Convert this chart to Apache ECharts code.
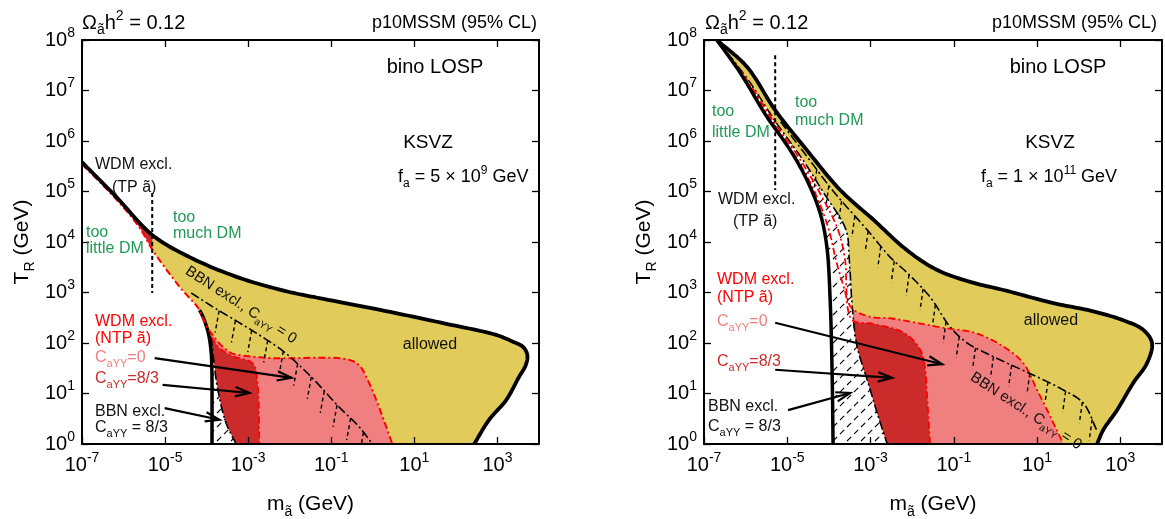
<!DOCTYPE html>
<html>
<head>
<meta charset="utf-8">
<script src="https://cdn.jsdelivr.net/npm/echarts@6.0.0/dist/echarts.min.js"></script>
<style>
html,body{margin:0;padding:0;background:#fff;}
#chart{width:1165px;height:519px;}
</style>
</head>
<body>
<div id="chart"></div>
<script>
// ===== Data: every point is [log10(m_a~ / GeV), log10(T_R / GeV)] =====
const xTickExps = [-7, -5, -3, -1, 1, 3];
const yTickExps = [0, 1, 2, 3, 4, 5, 6, 7, 8];

// ---- Left panel: KSVZ, f_a = 5e9 GeV ----
const L_upper = [[-7.00,5.58],[-6.17,4.89],[-5.31,4.14],[-4.41,3.70],[-3.21,3.29],[-2.01,3.01],[-1.29,2.89],[0.15,2.66],[1.77,2.38],[2.97,2.16],[3.36,2.03],[3.62,1.92],[3.72,1.76],[3.68,1.56],[3.52,1.33],[3.21,0.87],[2.80,0.48],[2.44,0.00]];
const L_lower = [[-7.00,5.54],[-6.17,4.84],[-5.62,4.29],[-5.30,3.84],[-4.65,3.11],[-4.17,2.65],[-3.98,2.26],[-3.91,1.96],[-3.88,1.66],[-3.87,0.00]];
const L_wdm0  = [[-4.00,2.32],[-3.82,2.12],[-3.62,1.93],[-3.40,1.80],[-3.21,1.76],[-2.42,1.70],[-0.64,1.68],[-0.33,1.56],[-0.09,1.21],[0.15,0.73],[0.47,0.00]];
const L_wdm83 = [[-3.89,2.12],[-3.69,1.90],[-3.37,1.74],[-2.97,1.64],[-2.85,1.55],[-2.80,1.38],[-2.76,1.07],[-2.73,0.00]];
const L_bbn83 = [[-3.89,2.12],[-3.84,1.73],[-3.73,1.07],[-3.53,0.41],[-3.29,0.00]];
const L_bbn0  = [[-4.37,2.99],[-3.76,2.67],[-3.21,2.40],[-2.66,2.12],[-2.13,1.82],[-1.46,1.31],[-0.81,0.73],[-0.33,0.34],[-0.01,0.00]];
const L_wdmTP = [[-5.31,4.97],[-5.31,2.99]];
const L_arrows = [[-5.25,1.70,-1.96,1.31],[-5.06,1.17,-2.97,1.01],[-5.01,0.71,-3.69,0.48]];

// ---- Right panel: KSVZ, f_a = 1e11 GeV ----
const R_upper = [[-6.69,8.00],[-5.97,7.47],[-5.29,6.61],[-4.53,5.82],[-3.73,5.03],[-2.93,4.44],[-2.13,3.84],[-1.41,3.45],[-0.61,3.21],[0.19,3.05],[1.39,2.79],[2.28,2.64],[3.07,2.45],[3.55,2.26],[3.76,2.00],[3.64,1.60],[3.31,1.21],[2.92,0.67],[2.59,0.28],[2.44,0.00]];
const R_lower = [[-6.69,8.00],[-6.13,7.35],[-5.49,6.48],[-4.93,5.82],[-4.53,5.23],[-4.21,4.57],[-4.05,3.91],[-3.97,2.85],[-3.92,1.27],[-3.90,0.00]];
const R_wdm83 = [[-6.69,8.00],[-6.00,7.21],[-5.37,6.38],[-4.75,5.62],[-4.34,4.99],[-4.00,4.24],[-3.83,3.64],[-3.61,3.01],[-3.44,2.46],[-2.94,2.38],[-2.29,2.24],[-1.98,2.06],[-1.78,1.82],[-1.69,1.50],[-1.64,0.93],[-1.57,0.00]];
const R_wdm0  = [[-6.69,8.00],[-5.97,7.21],[-5.32,6.38],[-4.68,5.62],[-4.23,4.99],[-3.78,4.24],[-3.61,3.64],[-3.49,2.73],[-3.01,2.52],[-2.53,2.49],[-1.25,2.30],[-0.49,2.20],[0.19,1.93],[0.67,1.60],[1.00,1.07],[1.32,0.54],[1.63,0.00]];
const R_bbn83 = [[-6.69,8.00],[-5.94,7.21],[-5.28,6.38],[-4.62,5.62],[-4.14,4.99],[-3.59,4.24],[-3.51,3.64],[-3.44,2.73],[-3.32,1.92],[-3.08,1.27],[-2.84,0.61],[-2.60,0.00]];
const R_bbn0  = [[-5.16,6.38],[-4.46,5.62],[-3.88,4.99],[-3.08,4.24],[-2.53,3.70],[-2.12,3.39],[-1.57,2.91],[-1.09,2.32],[-0.68,2.00],[-0.13,1.76],[1.00,1.33],[1.63,1.07],[2.11,0.81],[2.45,0.24]];
const R_wdmTP = [[-5.29,7.70],[-5.29,5.03]];
const R_arrows = [[-5.29,2.40,-1.28,1.58],[-5.29,1.47,-2.48,1.31],[-4.98,0.67,-3.49,1.01]];

// ===== Styles =====
const FF = "'Liberation Sans', Arial, Helvetica, sans-serif";
const YEL = '#e1cc5b', PINK = '#f08080', DARK = '#cc2b2b', RED = '#ff0000', GREEN = '#1e9a55';
const DASHDOT = [9,3,2,3], REDDASH = [7,3,2,3];

function makeHatch(){
  const s = 14, c = document.createElement('canvas');
  c.width = s; c.height = s;
  const ctx = c.getContext('2d');
  ctx.fillStyle = '#fff'; ctx.fillRect(0,0,s,s);
  ctx.strokeStyle = '#000'; ctx.lineWidth = 1.1;
  const d = s*Math.SQRT2/2; ctx.setLineDash([d*0.6, d*0.4]);
  [0, s, 2*s].forEach(cc => { ctx.beginPath(); ctx.moveTo(-s, cc+s); ctx.lineTo(2*s, cc-2*s); ctx.stroke(); });
  return {image: c, repeat: 'repeat'};
}
const HATCH = makeHatch();

// ===== Rendering helpers (smoothing in pixel space) =====
const SEG = 12;
function cr(p0,p1,p2,p3,u){
  const d=(a,b)=>Math.max(Math.sqrt(Math.hypot(b[0]-a[0],b[1]-a[1])),1e-6);
  const t0=0,t1=t0+d(p0,p1),t2=t1+d(p1,p2),t3=t2+d(p2,p3);
  const t=t1+(t2-t1)*u;
  const L=(a,b,ta,tb)=>[(tb-t)/(tb-ta)*a[0]+(t-ta)/(tb-ta)*b[0],(tb-t)/(tb-ta)*a[1]+(t-ta)/(tb-ta)*b[1]];
  const A1=L(p0,p1,t0,t1),A2=L(p1,p2,t1,t2),A3=L(p2,p3,t2,t3);
  const B1=L(A1,A2,t0,t2),B2=L(A2,A3,t1,t3);
  return L(B1,B2,t1,t2);
}
function smoothPix(pix){
  const n=pix.length; if(n<3) return pix.slice();
  const out=[];
  for(let i=0;i<n-1;i++){
    const p1=pix[i],p2=pix[i+1];
    const p0=i>0?pix[i-1]:[2*p1[0]-p2[0],2*p1[1]-p2[1]];
    const p3=i+2<n?pix[i+2]:[2*p2[0]-p1[0],2*p2[1]-p1[1]];
    for(let k=0;k<SEG;k++) out.push(cr(p0,p1,p2,p3,k/SEG));
  }
  out.push(pix[n-1]);
  return out;
}
const ix=(c,i)=>i<0?c.length+i:i;
function rangePix(api,curve,i0,i1){
  const pix=curve.map(p=>api.coord(p));
  if(curve.length<3){ const s=pix.slice(Math.min(i0,i1),Math.max(i0,i1)+1); return i0<=i1?s:s.reverse(); }
  const sm=smoothPix(pix);
  const a=Math.min(i0,i1)*SEG,b=Math.max(i0,i1)*SEG;
  const seg=sm.slice(a,b+1);
  return i0<=i1?seg:seg.reverse();
}
function piecesData(pieces){
  const pts=[];
  pieces.forEach(([c,a,b])=>{a=ix(c,a);b=ix(c,b);const s=a<=b?c.slice(a,b+1):c.slice(b,a+1).reverse();pts.push(...s);});
  return pts;
}
function piecesPix(api,pieces){
  const out=[];
  pieces.forEach(([c,a,b])=>out.push(...rangePix(api,c,ix(c,a),ix(c,b))));
  return out;
}
function base(g,data){
  return {type:'custom',xAxisIndex:2*g,yAxisIndex:2*g,coordinateSystem:'cartesian2d',silent:true,clip:true,animation:false,data};
}
function area(g,pieces,fill){
  return Object.assign(base(g,piecesData(pieces)),{
    renderItem(params,api){
      if(params.dataIndex!==0) return null;
      return {type:'polygon',shape:{points:piecesPix(api,pieces)},style:{fill,stroke:null,lineWidth:0}};
    }});
}
function line(g,pieces,stroke,width,dash){
  return Object.assign(base(g,piecesData(pieces)),{
    renderItem(params,api){
      if(params.dataIndex!==0) return null;
      return {type:'polyline',shape:{points:piecesPix(api,pieces)},
        style:{stroke,lineWidth:width,lineDash:dash||null,fill:null,lineJoin:'round',lineCap:'butt'}};
    }});
}
function ticks(g,curve,start,step,len,dx){
  return Object.assign(base(g,curve),{
    renderItem(params,api){
      if(params.dataIndex!==0) return null;
      const pix=smoothPix(curve.map(p=>api.coord(p)));
      const children=[];let acc=0,next=start;
      for(let i=1;i<pix.length;i++){
        const a=pix[i-1],b=pix[i];const L=Math.hypot(b[0]-a[0],b[1]-a[1]);
        while(L>0&&acc+L>=next){
          const f=(next-acc)/L;const x=a[0]+f*(b[0]-a[0]),y=a[1]+f*(b[1]-a[1]);
          children.push({type:'line',shape:{x1:x,y1:y,x2:x+dx,y2:y+len},style:{stroke:'#000',lineWidth:1.4,lineDash:[4,3]}});
          next+=step;
        }
        acc+=L;
      }
      return {type:'group',children};
    }});
}
function arrows(g,list){
  return Object.assign(base(g,list),{
    encode:{x:[0,2],y:[1,3]},
    renderItem(params,api){
      const a=api.coord([api.value(0),api.value(1)]),b=api.coord([api.value(2),api.value(3)]);
      const ang=Math.atan2(b[1]-a[1],b[0]-a[0]),hl=15,hw=0.32;
      const h1=[b[0]-hl*Math.cos(ang-hw),b[1]-hl*Math.sin(ang-hw)];
      const h2=[b[0]-hl*Math.cos(ang+hw),b[1]-hl*Math.sin(ang+hw)];
      return {type:'group',children:[
        {type:'line',shape:{x1:a[0],y1:a[1],x2:b[0],y2:b[1]},style:{stroke:'#000',lineWidth:2.2}},
        {type:'polyline',shape:{points:[h1,b,h2]},style:{stroke:'#000',lineWidth:2.2,fill:null}}
      ]};
    }});
}

// ===== Axes =====
const tickRich = {
  b:{fontSize:20,fontFamily:FF,lineHeight:28,verticalAlign:'middle',color:'#000'},
  s:{fontSize:14,fontFamily:FF,lineHeight:14,verticalAlign:'top',color:'#000'}
};
const nameRich = {
  n:{fontSize:21,fontFamily:FF,lineHeight:29,verticalAlign:'middle',color:'#000'},
  sub:{fontSize:14,fontFamily:FF,lineHeight:14,verticalAlign:'bottom',color:'#000'}
};
const tickFmt = v => `{b|10}{s|${v}}`;
const axLine = {show:true,onZero:false,lineStyle:{color:'#000',width:2}};
function xAx(g,pos,lab){
  return {type:'value',gridIndex:g,position:pos,min:-7,max:4,interval:1,z:10,
    axisLine:axLine,
    axisTick:{show:true,inside:true,length:7,customValues:xTickExps,lineStyle:{color:'#000',width:1.3}},
    axisLabel:{show:lab,customValues:xTickExps,margin:7,formatter:tickFmt,rich:tickRich},
    splitLine:{show:false},
    name:lab?'{n|m}{sub|ã}{n| (GeV)}':'',nameLocation:'middle',nameGap:46,nameTextStyle:{rich:nameRich}};
}
function yAx(g,pos,lab){
  return {type:'value',gridIndex:g,position:pos,min:0,max:8,interval:1,z:10,
    axisLine:axLine,
    axisTick:{show:true,inside:true,length:7,lineStyle:{color:'#000',width:1.3}},
    axisLabel:{show:lab,margin:7,formatter:tickFmt,rich:tickRich},
    splitLine:{show:false},
    name:lab?'{n|T}{sub|R}{n| (GeV)}':'',nameLocation:'middle',nameGap:45,nameTextStyle:{rich:nameRich}};
}

// ===== Text annotations =====
function gRich(fs,color){
  const s=Math.round(fs*0.68);
  return {
    n:{fontSize:fs,fontFamily:FF,lineHeight:Math.round(fs*1.4),verticalAlign:'middle',fill:color},
    sub:{fontSize:s,fontFamily:FF,lineHeight:s,verticalAlign:'bottom',fill:color},
    sup:{fontSize:s,fontFamily:FF,lineHeight:s,verticalAlign:'top',fill:color}
  };
}
function txt(x,y,text,fs,color,align,rotDeg){
  return {type:'text',x,y,rotation:(rotDeg||0)*Math.PI/180,z:100,silent:true,
    style:{text,fill:color,fontSize:fs,fontFamily:FF,align:align||'left',verticalAlign:'middle',rich:gRich(fs,color)}};
}
const K='#111';
const graphics = [
  // left panel
  txt(82,23,'{n|Ω}{sub|ã}{n|h}{sup|2}{n| = 0.12}',20,'#000'),
  txt(537,23,'{n|p10MSSM (95% CL)}',18,'#000','right'),
  txt(435,67,'{n|bino LOSP}',20,'#000','center'),
  txt(428,143,'{n|KSVZ}',19,'#000','center'),
  txt(398,177,'{n|f}{sub|a}{n| = 5 × 10}{sup|9}{n| GeV}',18,'#000'),
  txt(95,165,'{n|WDM excl.}',16,K),
  txt(112,188,'{n|(TP ã)}',16,K),
  txt(173,218,'{n|too}',16,GREEN),
  txt(173,234,'{n|much DM}',16,GREEN),
  txt(86,233,'{n|too}',16,GREEN),
  txt(86,249,'{n|little DM}',16,GREEN),
  txt(95,322,'{n|WDM excl.}',16,RED),
  txt(95,339,'{n|(NTP ã)}',16,RED),
  txt(95,358,'{n|C}{sub|aYY}{n|=0}',16,PINK),
  txt(95,379,'{n|C}{sub|aYY}{n|=8/3}',16,DARK),
  txt(95,412,'{n|BBN excl.}',16,K),
  txt(95,428,'{n|C}{sub|aYY}{n| = 8/3}',16,K),
  txt(430,345,'{n|allowed}',16,K,'center'),
  txt(241,305,'{n|BBN excl., C}{sub|aYY}{n| = 0}',15,K,'center',-33),
  // right panel
  txt(705,23,'{n|Ω}{sub|ã}{n|h}{sup|2}{n| = 0.12}',20,'#000'),
  txt(1157,23,'{n|p10MSSM (95% CL)}',18,'#000','right'),
  txt(1058,67,'{n|bino LOSP}',20,'#000','center'),
  txt(1050,143,'{n|KSVZ}',19,'#000','center'),
  txt(1049,177,'{n|f}{sub|a}{n| = 1 × 10}{sup|11}{n| GeV}',18,'#000','center'),
  txt(718,200,'{n|WDM excl.}',16,K),
  txt(733,222,'{n|(TP ã)}',16,K),
  txt(712,112,'{n|too}',16,GREEN),
  txt(712,133,'{n|little DM}',16,GREEN),
  txt(795,103,'{n|too}',16,GREEN),
  txt(795,121,'{n|much DM}',16,GREEN),
  txt(717,280,'{n|WDM excl.}',16,RED),
  txt(717,298,'{n|(NTP ã)}',16,RED),
  txt(717,322,'{n|C}{sub|aYY}{n|=0}',16,PINK),
  txt(717,362,'{n|C}{sub|aYY}{n|=8/3}',16,DARK),
  txt(708,407,'{n|BBN excl.}',16,K),
  txt(708,427,'{n|C}{sub|aYY}{n| = 8/3}',16,K),
  txt(1051,321,'{n|allowed}',16,K,'center'),
  txt(1026,411,'{n|BBN excl., C}{sub|aYY}{n| = 0}',15,K,'center',-33)
];

// ===== Series =====
const series = [
  // left
  area(0,[[L_upper,0,-1],[L_lower,-1,0]],YEL),
  area(0,[[L_upper,0,2],[L_lower,3,0]],DARK),
  area(0,[[L_wdm0,0,-1],[L_lower,-1,7]],PINK),
  area(0,[[L_wdm83,0,-1],[L_bbn83,-1,1]],DARK),
  area(0,[[L_bbn83,0,-1],[L_lower,-1,7]],HATCH),
  line(0,[[L_bbn83,0,-1]],'#000',1.6,DASHDOT),
  line(0,[[L_wdm83,0,-1]],RED,1.8,REDDASH),
  line(0,[[L_lower,5,-1]],'#000',3.5),
  line(0,[[L_lower,0,5],[L_wdm0,0,-1]],RED,2,REDDASH),
  line(0,[[L_upper,0,-1]],'#000',3.8),
  line(0,[[L_bbn0,0,-1]],'#000',1.6,DASHDOT),
  ticks(0,L_bbn0,33,19,22,-4),
  line(0,[[L_wdmTP,0,-1]],'#000',2,[4,3]),
  arrows(0,L_arrows),
  // right
  area(1,[[R_upper,0,-1],[R_lower,-1,0]],YEL),
  area(1,[[R_lower,0,-1],[R_bbn83,-1,0]],HATCH),
  area(1,[[R_wdm0,7,-1],[R_bbn83,-1,7]],PINK),
  area(1,[[R_wdm83,8,-1],[R_bbn83,-1,8]],DARK),
  line(1,[[R_bbn83,0,-1]],'#000',1.6,DASHDOT),
  line(1,[[R_wdm83,0,-1]],RED,1.8,REDDASH),
  line(1,[[R_wdm0,0,-1]],RED,1.8,REDDASH),
  line(1,[[R_lower,0,-1]],'#000',3.5),
  line(1,[[R_upper,0,-1]],'#000',3.8),
  line(1,[[R_bbn0,0,-1]],'#000',1.6,DASHDOT),
  ticks(1,R_bbn0,60,20,21,-3),
  line(1,[[R_wdmTP,0,-1]],'#000',2,[4,3]),
  arrows(1,R_arrows)
];

const chart = echarts.init(document.getElementById('chart'),null,{renderer:'canvas'});
chart.setOption({
  animation:false,
  backgroundColor:'#fff',
  grid:[
    {left:82,top:40,width:457,height:404,outerBoundsMode:'none',containLabel:false},
    {left:704,top:40,width:458,height:404,outerBoundsMode:'none',containLabel:false}
  ],
  xAxis:[xAx(0,'bottom',true),xAx(0,'top',false),xAx(1,'bottom',true),xAx(1,'top',false)],
  yAxis:[yAx(0,'left',true),yAx(0,'right',false),yAx(1,'left',true),yAx(1,'right',false)],
  series,
  graphic:graphics
});
</script>
</body>
</html>
